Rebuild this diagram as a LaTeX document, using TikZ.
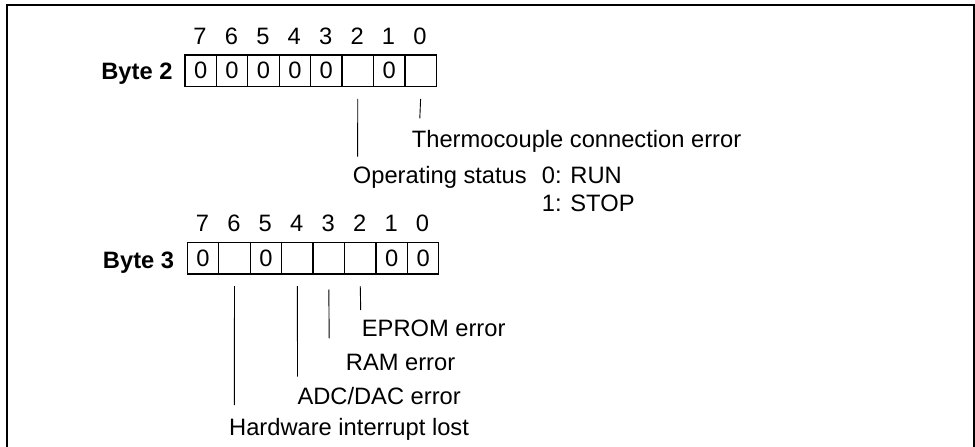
\documentclass[tikz,border=0pt]{standalone}
\usepackage{fontspec}
\setmainfont{Liberation Sans}
\begin{document}
\begin{tikzpicture}[x=1pt,y=-1pt,
  every node/.style={font=\fontsize{23.7}{28}\selectfont},
  cell/.style={draw, line width=1.2pt, minimum width=31.43pt, minimum height=31.6pt, inner sep=0pt, anchor=north west},
  bitnum/.style={anchor=base, inner sep=0pt},
  lbl/.style={anchor=base west, inner sep=0pt},
  bytelbl/.style={anchor=base east, inner sep=0pt, font=\fontsize{23.7}{28}\selectfont\bfseries},
  lead/.style={line width=0.9pt}]
\useasboundingbox (0,0) rectangle (975,447);
% frame
\draw[line width=2pt] (6.7,447) -- (6.7,4.7) -- (973.5,4.7) -- (973.5,447);
% Byte 2
\foreach \i/\t [count=\k from 0] in {7/0,6/0,5/0,4/0,3/0,2/,1/0,0/} {
  \node[cell] (b2c\i) at ({184.3+\k*31.43},54.3) {\t};
  \node[bitnum] (b2n\i) at ({184.3+\k*31.43+15.7},44.3) {\i};
}
\node[bytelbl] (b2) at (172.7,79.5) {Byte 2};
% Byte 3
\foreach \i/\t [count=\k from 0] in {7/0,6/,5/0,4/,3/,2/,1/0,0/0} {
  \node[cell] (b3c\i) at ({186.7+\k*31.45},241.7) {\t};
  \node[bitnum] (b3n\i) at ({186.7+\k*31.45+15.7},231.7) {\i};
}
\node[bytelbl] (b3) at (174.3,268.5) {Byte 3};
% labels
\node[lbl] (tce) at (411.7,147.7) {Thermocouple connection error};
\node[lbl] (ops) at (352.7,183.3) {Operating status};
\node[lbl] (run) at (541.7,183.3) {0: RUN};
\node[lbl] (stop) at (541.7,211.7) {1: STOP};
\node[lbl] (epr) at (361.7,336) {EPROM error};
\node[lbl] (ram) at (345.7,370.7) {RAM error};
\node[lbl] (adc) at (297.3,404) {ADC/DAC error};
\node[lbl] (hw) at (229,435) {Hardware interrupt lost};
% leaders
\coordinate (e0) at (419.8,118.3);
\coordinate (e2) at (357.6,156.7);
\draw[lead] ([yshift=-11.7pt]b2c0.south) -- (e0);
\draw[lead] ([yshift=-11.7pt]b2c2.south) -- (e2);
\coordinate (f6) at (234.4,405);
\coordinate (f4) at (297.5,376.7);
\coordinate (f3) at (329.2,338.3);
\coordinate (f2) at (360.7,310);
\draw[lead] ([yshift=-11.7pt]b3c6.south) -- (f6);
\draw[lead] ([yshift=-11.7pt]b3c4.south) -- (f4);
\draw[lead] ([yshift=-15pt]b3c3.south) -- (f3);
\draw[lead] ([yshift=-11.7pt]b3c2.south) -- (f2);
\end{tikzpicture}
\end{document}
